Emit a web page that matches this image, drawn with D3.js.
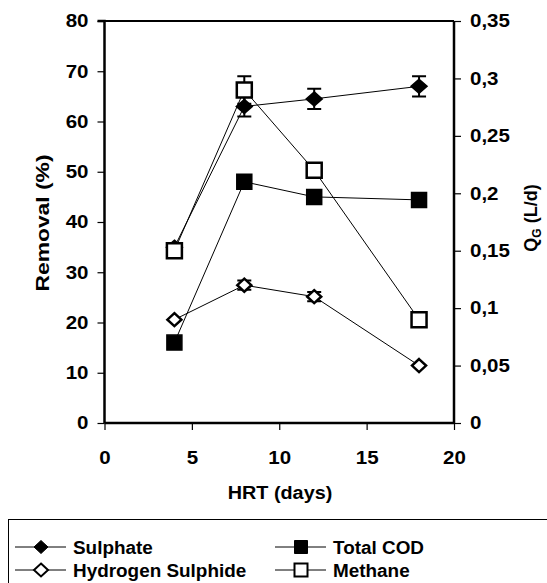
<!DOCTYPE html>
<html>
<head>
<meta charset="utf-8">
<script src="https://cdn.jsdelivr.net/npm/d3@7"></script>
<style>
  body { margin: 0; background: #fff; }
  text { font-family: "Liberation Sans", Arial, sans-serif; font-weight: bold; }
</style>
</head>
<body>
<svg width="547" height="583"></svg>
<script>
// HRT (days)
var hrt = [4, 8, 12, 18];

// removal (%) - left axis
var sulphate = [35, 63, 64.5, 67];
var sulphateErr = [0, 2, 2, 2];
var totalCOD = [16, 48, 45, 44.4];
var totalCODErr = [0, 1, 0.6, 0];

// QG (L/d) - right axis
var h2s = [0.09, 0.12, 0.11, 0.05];
var h2sErr = [0, 0.004, 0.004, 0];
var methane = [0.15, 0.29, 0.22, 0.09];
var methaneErr = [0, 0.012, 0.003, 0];

var xTicks = [0, 5, 10, 15, 20];
var leftTicks = [0, 10, 20, 30, 40, 50, 60, 70, 80];
var rightTicks = [0, 0.05, 0.1, 0.15, 0.2, 0.25, 0.3, 0.35];

var svg = d3.select("svg");

var x = d3.scaleLinear().domain([0, 20]).range([104.5, 454]);
var yL = d3.scaleLinear().domain([0, 80]).range([423, 21]);
var yR = d3.scaleLinear().domain([0, 0.35]).range([423, 21]);

// stretch text a bit, the original font is wider
function stretch(sel, k) {
  sel.each(function() {
    var w = this.getComputedTextLength();
    d3.select(this).attr("textLength", w * k).attr("lengthAdjust", "spacingAndGlyphs");
  });
}

var fmt = d => String(d).replace(".", ",");

// frame
svg.append("line").attr("x1", x(0)).attr("x2", x(20)).attr("y1", yL(80)).attr("y2", yL(80))
  .attr("stroke", "#000").attr("stroke-width", 2);

var gL = svg.append("g").attr("transform", `translate(${x(0)},0)`)
  .call(d3.axisLeft(yL).tickValues(leftTicks).tickSize(7).tickPadding(9));
var gR = svg.append("g").attr("transform", `translate(${x(20)},0)`)
  .call(d3.axisRight(yR).tickValues(rightTicks).tickSize(7).tickPadding(9).tickFormat(fmt));
var gB = svg.append("g").attr("transform", `translate(0,${yL(0)})`)
  .call(d3.axisBottom(x).tickValues(xTicks).tickSize(7).tickPadding(21));

[gL, gR, gB].forEach(g => {
  g.attr("font-family", null).attr("font-size", null);
  g.select(".domain").attr("stroke", "#000").attr("stroke-width", 2.5);
  g.selectAll(".tick line").attr("stroke", "#000").attr("stroke-width", 1.2);
  g.selectAll(".tick text").attr("font-size", 18).attr("fill", "#000")
    .call(stretch, 1.14);
});
gL.select(".domain").attr("d", `M-7,${yL(80)}H0V${yL(0)}`);
gR.select(".domain").attr("d", `M0,${yR(0.35)}V${yR(0)}`);
gB.select(".domain").attr("d", `M${x(0)},0H${x(20)}`);

// axis titles
svg.append("text").attr("x", 280).attr("y", 499).attr("text-anchor", "middle")
  .attr("font-size", 18).text("HRT (days)").call(stretch, 1.1);

svg.append("text").attr("transform", "translate(49,223) rotate(-90)")
  .attr("text-anchor", "middle").attr("font-size", 18).text("Removal (%)")
  .attr("textLength", 137).attr("lengthAdjust", "spacingAndGlyphs");

var qg = svg.append("text").attr("transform", "translate(537,218) rotate(-90)")
  .attr("text-anchor", "middle").attr("font-size", 18);
qg.append("tspan").text("Q");
qg.append("tspan").attr("font-size", 12).attr("dy", 4).text("G");
qg.append("tspan").attr("dy", -4).text(" (L/d)");

// series
var series = [
  { name: "Sulphate", vals: sulphate, err: sulphateErr, y: yL, shape: "diamond", fill: "#000" },
  { name: "Total COD", vals: totalCOD, err: totalCODErr, y: yL, shape: "square", fill: "#000" },
  { name: "Hydrogen Sulphide", vals: h2s, err: h2sErr, y: yR, shape: "diamond", fill: "#fff" },
  { name: "Methane", vals: methane, err: methaneErr, y: yR, shape: "square", fill: "#fff" }
];

function markerPath(shape, w, h) {
  if (shape == "square") return `M${-w/2},${-h/2}h${w}v${h}h${-w}Z`;
  return `M0,${-h/2}L${w/2},0L0,${h/2}L${-w/2},0Z`;
}

var line = (sc) => d3.line().x((d, i) => x(hrt[i])).y(d => sc(d));

series.forEach(s => {
  svg.append("path").attr("d", line(s.y)(s.vals))
    .attr("fill", "none").attr("stroke", "#000").attr("stroke-width", 1);
});

series.forEach(s => {
  var g = svg.append("g");
  s.vals.forEach((v, i) => {
    if (s.err[i] > 0) {
      var y1 = s.y(v + s.err[i]), y2 = s.y(v - s.err[i]);
      g.append("path").attr("d", `M${x(hrt[i])},${y1}V${y2}M${x(hrt[i]) - 7},${y1}h14M${x(hrt[i]) - 7},${y2}h14`)
        .attr("stroke", "#000").attr("stroke-width", 2).attr("fill", "none");
    }
  });
  var open = s.fill == "#fff";
  g.selectAll("path.m").data(s.vals).join("path").attr("class", "m")
    .attr("transform", (d, i) => `translate(${x(hrt[i])},${s.y(d)})`)
    .attr("d", s.shape == "square" ? markerPath("square", 15, 15) : markerPath("diamond", open ? 14 : 16, open ? 13 : 14))
    .attr("fill", s.fill).attr("stroke", "#000").attr("stroke-width", open ? 2.5 : 1.5);
});

// legend
svg.append("rect").attr("x", 8.5).attr("y", 519.5).attr("width", 600).attr("height", 100)
  .attr("fill", "none").attr("stroke", "#000").attr("stroke-width", 1);

var legPos = [[15, 547], [275, 547], [15, 570], [275, 570]];
series.forEach((s, i) => {
  var lx = legPos[i][0], ly = legPos[i][1];
  var open = s.fill == "#fff";
  svg.append("line").attr("x1", lx).attr("x2", lx + 51).attr("y1", ly).attr("y2", ly)
    .attr("stroke", "#000").attr("stroke-width", 1);
  svg.append("path").attr("transform", `translate(${lx + 26},${ly})`)
    .attr("d", s.shape == "square" ? markerPath("square", 13, 13) : markerPath("diamond", 14, 13))
    .attr("fill", s.fill).attr("stroke", "#000").attr("stroke-width", open ? 2 : 1);
  svg.append("text").attr("x", lx + 58).attr("y", ly + 6.5).attr("font-size", 18)
    .text(s.name).call(stretch, 1.05);
});
</script>
</body>
</html>
